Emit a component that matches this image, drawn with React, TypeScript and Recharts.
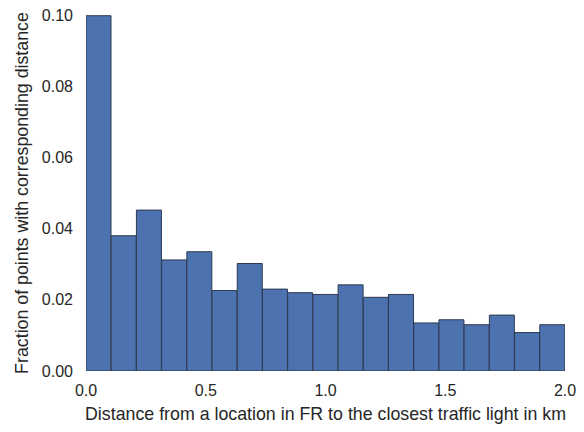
import React from 'react';
import { BarChart, Bar, XAxis, YAxis, Label } from 'recharts';

// Histogram: 19 equal bins spanning 0–2.0 km
const binCount = 19;
const binWidth = 2 / binCount;
const binCenters = Array.from({ length: binCount }, (_, i) => (i + 0.5) * binWidth);
const fractions = [
  0.0998, 0.038, 0.0452, 0.0312, 0.0335, 0.0226, 0.0302, 0.023, 0.022, 0.0215,
  0.0242, 0.0207, 0.0215, 0.0135, 0.0144, 0.013, 0.0157, 0.0108, 0.013,
];
const xTicks = [0, 0.5, 1, 1.5, 2];
const yTicks = [0, 0.02, 0.04, 0.06, 0.08, 0.1];
const xLabel = 'Distance from a location in FR to the closest traffic light in km';
const yLabel = 'Fraction of points with corresponding distance';

const data = binCenters.map((c, i) => ({ mid: c, fraction: fractions[i] }));

const FONT = '"Liberation Sans", Arial, sans-serif';
const TEXT = '#262626';

const YLabel = (props: any) => {
  const vb = props.viewBox || {};
  const cx = (vb.x || 0) + 22;
  const cy = (vb.y || 0) + (vb.height || 0) / 2;
  return (
    <text
      x={cx}
      y={cy}
      transform={`rotate(-90, ${cx}, ${cy})`}
      textAnchor="middle"
      dominantBaseline="central"
      fontFamily={FONT}
      fontSize={17.8}
      fill={TEXT}
    >
      {yLabel}
    </text>
  );
};

const XLabel = (props: any) => {
  const vb = props.viewBox || {};
  const cx = (vb.x || 0) + (vb.width || 0) / 2;
  const y = (vb.y || 0) + 49;
  return (
    <text x={cx} y={y} textAnchor="middle" fontFamily={FONT} fontSize={17.8} fill={TEXT}>
      {xLabel}
    </text>
  );
};

export default function App() {
  return (
    <div style={{ position: 'relative', width: 584, height: 432, margin: -8, background: '#fff', overflow: 'hidden' }}>
      <span
        style={{
          position: 'absolute',
          left: -6,
          top: 383,
          fontSize: 16,
          lineHeight: '16px',
          fontFamily: FONT,
          color: TEXT,
        }}
      >
        0
      </span>
      <BarChart
        width={584}
        height={432}
        data={data}
        margin={{ top: 15, right: 19, left: 0, bottom: 0 }}
        barCategoryGap={0}
        barGap={0}
      >
        <XAxis
          dataKey="mid"
          type="number"
          domain={[0, 2]}
          ticks={xTicks}
          tickFormatter={(v: number) => v.toFixed(1)}
          axisLine={false}
          tickLine={false}
          tickSize={0}
          tickMargin={14}
          height={61}
          interval={0}
          allowDataOverflow
          tick={{ fontFamily: FONT, fontSize: 16, fill: TEXT }}
        >
          <Label content={<XLabel />} />
        </XAxis>
        <YAxis
          domain={[0, 0.1]}
          ticks={yTicks}
          tickFormatter={(v: number) => v.toFixed(2)}
          axisLine={false}
          tickLine={false}
          tickSize={0}
          tickMargin={13}
          width={86}
          interval={0}
          allowDataOverflow
          tick={{ fontFamily: FONT, fontSize: 16, fill: TEXT }}
        >
          <Label content={<YLabel />} />
        </YAxis>
        <Bar
          dataKey="fraction"
          fill="#4C72B0"
          stroke="#2e3a4f"
          strokeWidth={1}
          isAnimationActive={false}
        />
      </BarChart>
    </div>
  );
}
